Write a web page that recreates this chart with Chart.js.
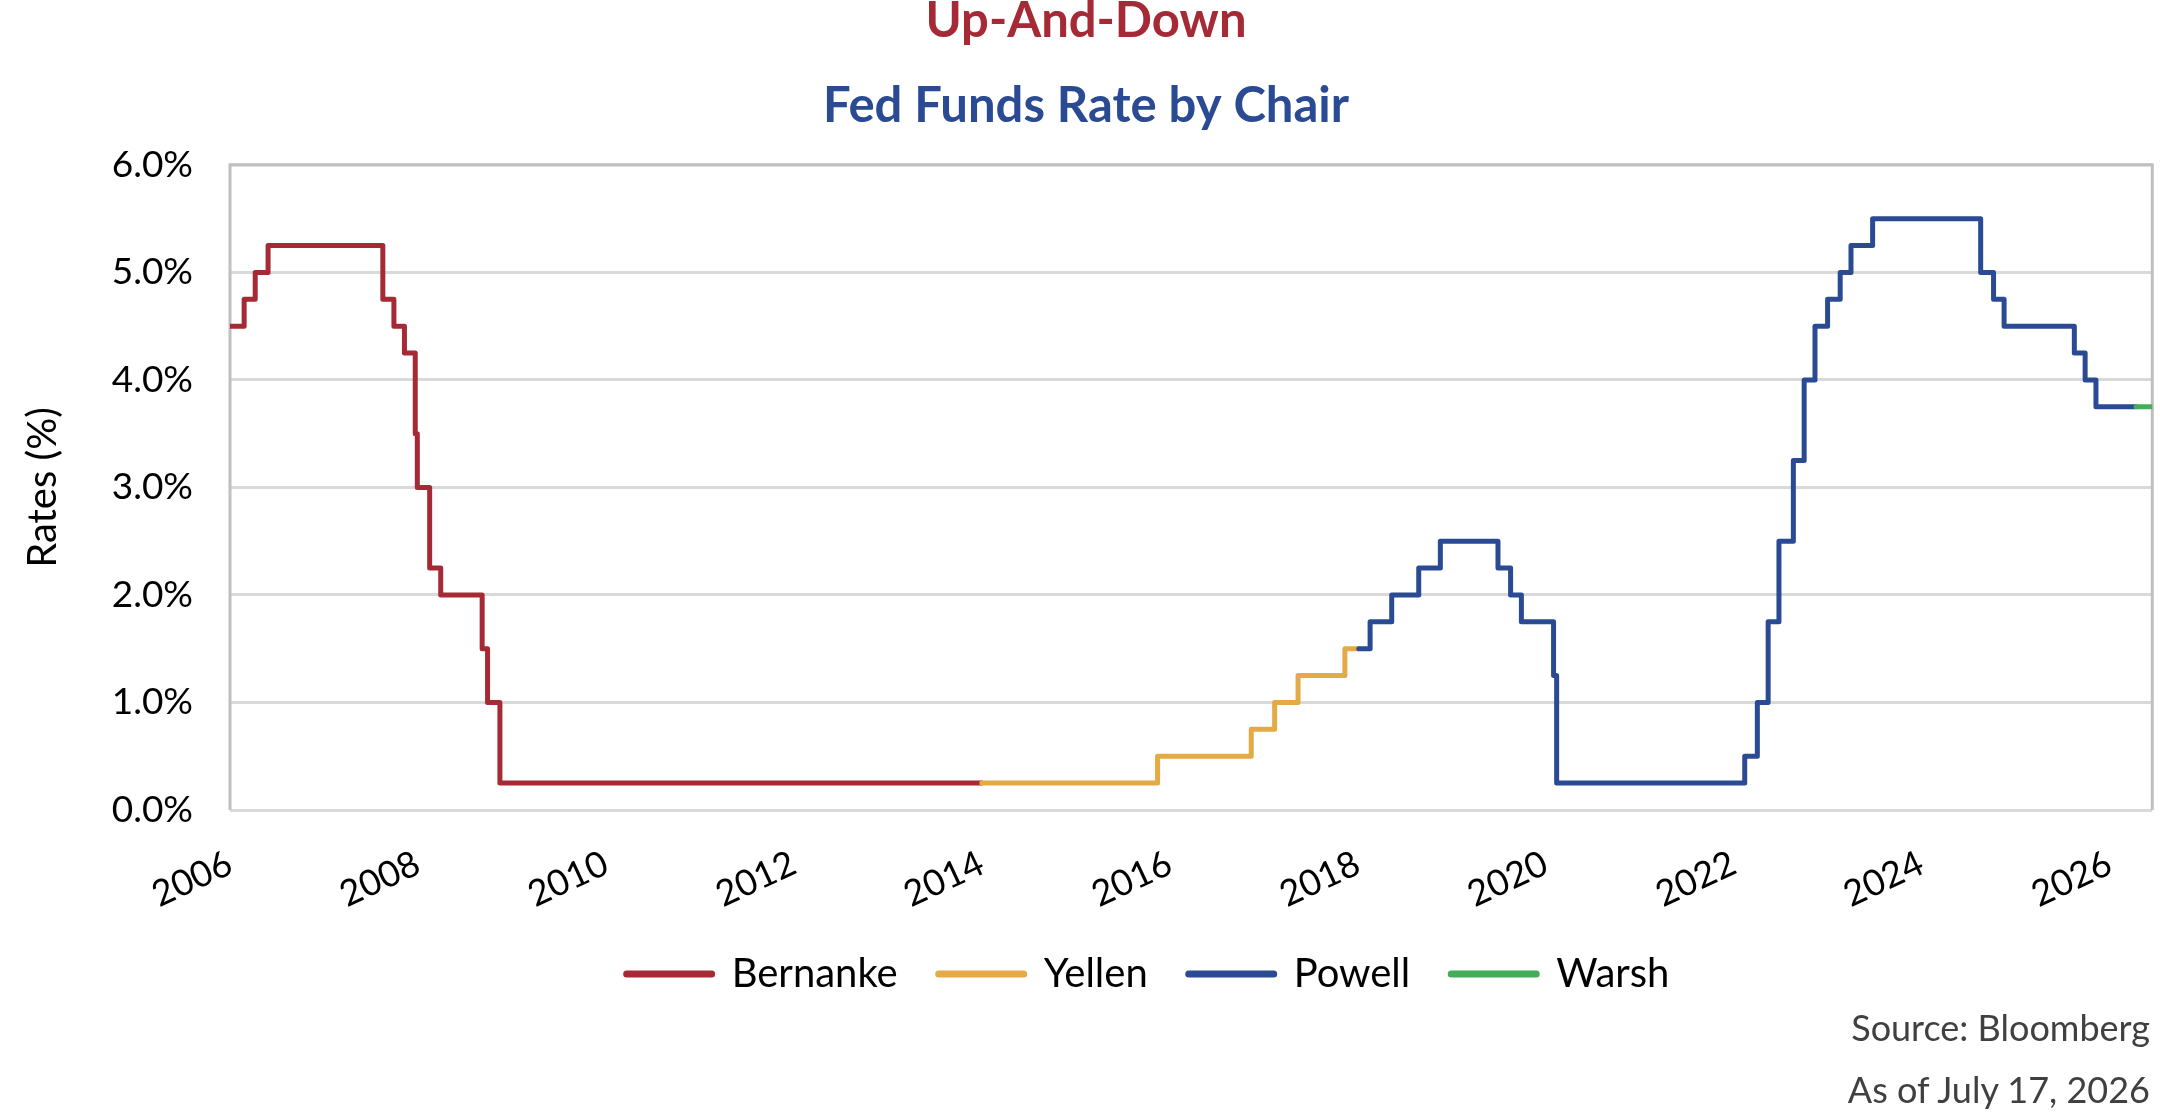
<!DOCTYPE html>
<html>
<head>
<meta charset="utf-8">
<title>Fed Funds Rate by Chair</title>
<script src="https://cdn.jsdelivr.net/npm/chart.js@4.4.1/dist/chart.umd.min.js"></script>
<style>
  html, body { margin: 0; padding: 0; background: #fff; }
  #wrap { position: relative; width: 2160px; height: 1117px; }
  .note { position: absolute; right: 10px; font: 36px/36px Lato, sans-serif; color: #404040; white-space: nowrap; }
</style>
</head>
<body>
<div id="wrap">
  <canvas id="chart"></canvas>
  <div class="note" style="top:1009px">Source: Bloomberg</div>
  <div class="note" style="top:1071px">As of July 17, 2026</div>
</div>
<script>
// upper bound of the fed funds target, one point per change (step chart)
const bernankeDates = ['2006-02-01', '2006-03-28', '2006-05-10', '2006-06-29', '2007-09-18', '2007-10-31', '2007-12-11',
    '2008-01-22', '2008-01-30', '2008-03-18', '2008-04-30', '2008-10-08', '2008-10-29', '2008-12-16', '2014-02-01'];
const bernankeRates = [4.50, 4.75, 5.00, 5.25, 4.75, 4.50, 4.25, 3.50, 3.00, 2.25, 2.00, 1.50, 1.00, 0.25, 0.25];

const yellenDates = ['2014-02-01', '2015-12-16', '2016-12-14', '2017-03-15', '2017-06-14', '2017-12-13', '2018-02-03'];
const yellenRates = [0.25, 0.50, 0.75, 1.00, 1.25, 1.50, 1.50];

const powellDates = ['2018-02-05', '2018-03-21', '2018-06-13', '2018-09-26', '2018-12-19', '2019-07-31', '2019-09-18',
    '2019-10-30', '2020-03-03', '2020-03-15', '2022-03-16', '2022-05-04', '2022-06-15', '2022-07-27', '2022-09-21',
    '2022-11-02', '2022-12-14', '2023-02-01', '2023-03-22', '2023-05-03', '2023-07-26', '2024-09-18', '2024-11-07',
    '2024-12-18', '2025-09-17', '2025-10-29', '2025-12-10', '2026-05-15'];
const powellRates = [1.50, 1.75, 2.00, 2.25, 2.50, 2.25, 2.00, 1.75, 1.25, 0.25, 0.50, 1.00, 1.75, 2.50, 3.25,
    4.00, 4.50, 4.75, 5.00, 5.25, 5.50, 5.00, 4.75, 4.50, 4.25, 4.00, 3.75, 3.75];

const warshDates = ['2026-05-15', '2026-07-17'];
const warshRates = [3.75, 3.75];

// axis runs from Bernanke's first day to the "as of" date, labels every 2 years
const axisStart = '2006-02-01';
const axisEnd = '2026-07-17';
const tickYears = [2006, 2008, 2010, 2012, 2014, 2016, 2018, 2020, 2022, 2024, 2026];
const yTicks = [0, 1, 2, 3, 4, 5, 6];

function toPoints(dates, rates) {
    return dates.map((d, i) => ({ x: Date.parse(d), y: rates[i] }));
}

function series(label, dates, rates, color, order) {
    return {
        label: label,
        data: toPoints(dates, rates),
        borderColor: color,
        backgroundColor: color,
        borderWidth: 5,
        pointRadius: 0,
        stepped: true,
        borderCapStyle: 'round',
        borderJoinStyle: 'round',
        order: order
    };
}

// grey frame round the plot area (left, top, right); bottom is the 0% grid line
const plotFrame = {
    id: 'plotFrame',
    beforeDatasetsDraw(chart) {
        const { ctx, chartArea: a } = chart;
        ctx.save();
        ctx.strokeStyle = '#BFBFBF';
        ctx.lineWidth = 3;
        ctx.beginPath();
        ctx.moveTo(a.left, a.bottom);
        ctx.lineTo(a.left, a.top);
        ctx.lineTo(a.right, a.top);
        ctx.lineTo(a.right, a.bottom);
        ctx.stroke();
        ctx.restore();
    }
};

// the legend sits a bit right of the page centre in the original
const legendShift = {
    id: 'legendShift',
    afterLayout(chart) {
        chart.legend.left += 62;
        chart.legend.right += 62;
    }
};

Chart.defaults.font.family = 'Lato';
Chart.defaults.color = '#000';

const titleFont = { family: 'Lato', size: 49, weight: 'bold', lineHeight: 0.85 };

let chart = new Chart(document.getElementById('chart'), {
    type: 'line',
    data: {
        datasets: [
            series('Bernanke', bernankeDates, bernankeRates, '#A52A35', 4),
            series('Yellen', yellenDates, yellenRates, '#E3AA46', 3),
            series('Powell', powellDates, powellRates, '#2A4B94', 2),
            series('Warsh', warshDates, warshRates, '#44AD5A', 1)
        ]
    },
    options: {
        responsive: true,
        maintainAspectRatio: false,
        animation: false,
        layout: { padding: { left: 19, right: 7, top: 0, bottom: 113 } },
        plugins: {
            title: {
                display: true,
                text: 'Up-And-Down',
                color: '#A52A35',
                font: titleFont,
                padding: { top: 0, bottom: 43.5 }
            },
            subtitle: {
                display: true,
                text: 'Fed Funds Rate by Chair',
                color: '#2A4B94',
                font: titleFont,
                padding: { top: 0, bottom: 38.1 }
            },
            legend: {
                position: 'bottom',
                labels: {
                    usePointStyle: true,
                    pointStyle: 'line',
                    pointStyleWidth: 85,
                    padding: 41,
                    color: '#000',
                    font: { size: 40 },
                    sort: (a, b) => a.datasetIndex - b.datasetIndex,
                    generateLabels(c) {
                        return Chart.defaults.plugins.legend.labels.generateLabels(c).map(l => {
                            l.lineWidth = 7;
                            l.lineCap = 'round';
                            return l;
                        });
                    }
                }
            },
            tooltip: { enabled: false }
        },
        scales: {
            x: {
                type: 'linear',
                min: Date.parse(axisStart),
                max: Date.parse(axisEnd),
                afterBuildTicks: (axis) => {
                    axis.ticks = tickYears.map(y => ({ value: Date.parse(y + axisStart.slice(4)) }));
                },
                afterFit: (scale) => { scale.height = 103; },
                grid: { display: false, drawTicks: false },
                border: { display: false },
                ticks: {
                    autoSkip: false,
                    minRotation: 25,
                    maxRotation: 25,
                    padding: 32,
                    color: '#000',
                    font: { size: 36 },
                    callback: (v) => new Date(v).getUTCFullYear()
                }
            },
            y: {
                min: 0,
                max: 6,
                afterBuildTicks: (axis) => {
                    axis.ticks = yTicks.map(v => ({ value: v }));
                },
                afterFit: (scale) => { scale.width = 211; },
                grid: { color: '#D9D9D9', lineWidth: 3, drawTicks: false },
                border: { display: false },
                ticks: {
                    padding: 37,
                    color: '#000',
                    font: { size: 37 },
                    callback: (v) => v.toFixed(1) + '%'
                },
                title: {
                    display: true,
                    text: 'Rates (%)',
                    color: '#000',
                    font: { size: 40 },
                    padding: { top: 0, bottom: 0 }
                }
            }
        }
    },
    plugins: [plotFrame, legendShift]
});
</script>
</body>
</html>
